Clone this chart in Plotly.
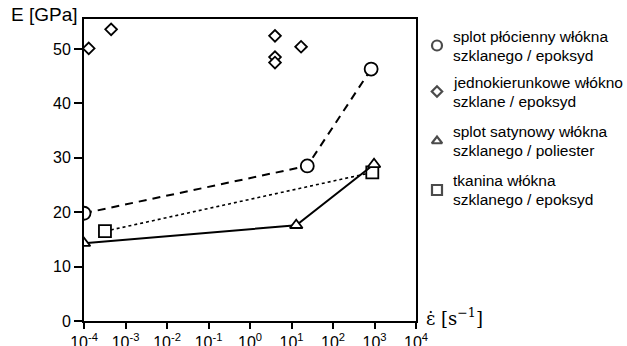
import plotly.graph_objects as go

# ---- data ----
rate_plain = [1e-4, 24, 830]          # splot płócienny / epoksyd (circles)
E_plain = [19.8, 28.5, 46.3]
rate_uni = [1.3e-4, 4.5e-4, 4.0, 4.0, 4.0, 17]   # jednokierunkowe (diamonds)
E_uni = [50.1, 53.6, 52.4, 48.5, 47.5, 50.4]
rate_satin = [1e-4, 13, 975]          # splot satynowy / poliester (triangles)
E_satin = [14.3, 17.6, 28.8]
rate_fabric = [3.2e-4, 885]           # tkanina / epoksyd (squares)
E_fabric = [16.5, 27.3]

x_tickvals = [1e-4, 1e-3, 1e-2, 1e-1, 1, 10, 100, 1000, 10000]
x_ticktext = ["10<sup>-4</sup>", "10<sup>-3</sup>", "10<sup>-2</sup>", "10<sup>-1</sup>",
              "10<sup>0</sup>", "10<sup>1</sup>", "10<sup>2</sup>", "10<sup>3</sup>", "10<sup>4</sup>"]
y_tickvals = [0, 10, 20, 30, 40, 50]

legend_labels = ["splot płócienny włókna<br>szklanego / epoksyd",
                 "jednokierunkowe włókno<br>szklane / epoksyd",
                 "splot satynowy włókna<br>szklanego / poliester",
                 "tkanina włókna<br>szklanego / epoksyd"]
legend_symbols = ["circle", "diamond", "triangle-up", "square"]

# ---- layout constants (pixels) ----
W, H = 627, 346
L, T, B = 84, 19, 25
PLOT_R = 416
paper_w = W - L
dom_end = (PLOT_R - L) / paper_w
leg_marker_x = 437
leg_text_x = 451
leg_y = [45.5, 91.5, 141, 190]
leg_line_gap = 19
leg_sizes = [10, 8, 9, 10]

FONT = "Liberation Sans, Arial, sans-serif"
BLACK = "#000000"

fig = go.Figure()

mk = dict(color="white", line=dict(color=BLACK, width=1.8))

fig.add_trace(go.Scatter(x=rate_plain, y=E_plain, mode="lines+markers",
                         line=dict(color=BLACK, width=2, dash="8px,6px"),
                         marker=dict(symbol="circle", size=13, **mk), showlegend=False))
fig.add_trace(go.Scatter(x=rate_fabric, y=E_fabric, mode="lines+markers",
                         line=dict(color=BLACK, width=1.6, dash="dot"),
                         marker=dict(symbol="square", size=12, **mk), showlegend=False))
fig.add_trace(go.Scatter(x=rate_satin, y=E_satin, mode="lines+markers",
                         line=dict(color=BLACK, width=2),
                         marker=dict(symbol="triangle-up", size=11, **mk), showlegend=False))
fig.add_trace(go.Scatter(x=rate_uni, y=E_uni, mode="markers",
                         marker=dict(symbol="diamond", size=9, **mk), showlegend=False))

# legend glyphs on an overlay pixel axis
fig.add_trace(go.Scatter(x=[leg_marker_x] * 4, y=leg_y, mode="markers", xaxis="x2", yaxis="y2",
                         marker=dict(symbol=legend_symbols, size=leg_sizes, color="white",
                                     line=dict(color=BLACK, width=2.2)),
                         showlegend=False, hoverinfo="skip"))

annotations = []
for lab, yy in zip(legend_labels, leg_y):
    lines = lab.split("<br>")
    for i, ln in enumerate(lines):
        off = (i - (len(lines) - 1) / 2) * leg_line_gap
        annotations.append(dict(text=ln, xref="x2", yref="y2", x=leg_text_x, y=yy + off,
                                xanchor="left", yanchor="middle", align="left", showarrow=False,
                                font=dict(family=FONT, size=15.5, color=BLACK)))
annotations.append(dict(text="E [GPa]", xref="paper", yref="paper",
                        x=(80 - L) / paper_w, y=1 + (T - 14) / (H - T - B),
                        xanchor="right", yanchor="middle", showarrow=False,
                        font=dict(family=FONT, size=19, color=BLACK)))
annotations.append(dict(text="ε̇ [s<sup>−1</sup>]", xref="paper", yref="paper",
                        x=(424 - L) / paper_w, y=(H - B - 317) / (H - T - B),
                        xanchor="left", yanchor="middle", showarrow=False,
                        font=dict(family="DejaVu Serif, serif", size=18, color=BLACK)))

fig.update_layout(
    width=W, height=H,
    margin=dict(l=L, r=0, t=T, b=B, pad=0, autoexpand=False),
    paper_bgcolor="white", plot_bgcolor="white",
    showlegend=False,
    annotations=annotations,
    xaxis=dict(type="log", range=[-4, 4], domain=[0, dom_end], automargin=False,
               tickvals=x_tickvals, ticktext=x_ticktext,
               ticks="outside", ticklen=6, tickwidth=2, tickcolor=BLACK,
               showline=True, linecolor=BLACK, linewidth=2, mirror=True,
               showgrid=False, zeroline=False,
               tickfont=dict(family=FONT, size=16, color=BLACK)),
    yaxis=dict(range=[0, 55.5], tickvals=y_tickvals, automargin=False,
               ticks="outside", ticklen=8, tickwidth=2, tickcolor=BLACK,
               showline=True, linecolor=BLACK, linewidth=2, mirror=True,
               showgrid=False, zeroline=False,
               tickfont=dict(family=FONT, size=16, color=BLACK)),
    xaxis2=dict(domain=[dom_end, 1], range=[PLOT_R, W], visible=False, anchor="y2",
                fixedrange=True, automargin=False),
    yaxis2=dict(domain=[0, 1], range=[H - B, T], visible=False, anchor="x2",
                fixedrange=True, automargin=False),
)

fig.write_html("out.html")
